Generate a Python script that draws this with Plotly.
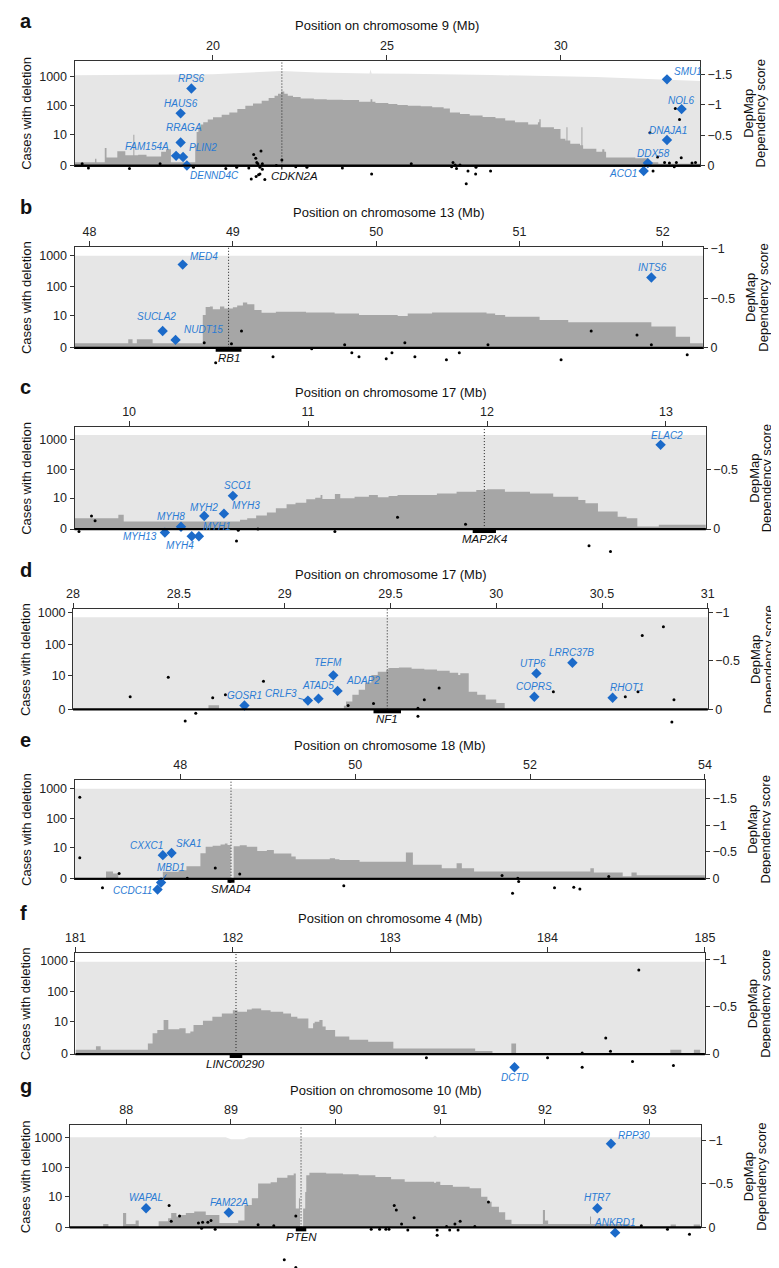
import numpy as np
import plotly.graph_objects as go

W, H = 779, 1268
FONT = "Liberation Sans, Arial, Helvetica, sans-serif"
BLUE = "#1b6ac9"
BLUE_TXT = "#2a7bd4"
LIGHT = "#e6e6e6"
DARK = "#a6a6a6"
FRAME = "#333333"

# ---------------- Panel a : chromosome 9 ----------------
a_tot_pos = [16.02, 20.0, 21.97, 23.0, 24.5, 24.53, 24.56, 25.6, 28.0, 31.0, 34.0]
a_tot_val = [1080, 1170, 1510, 1350, 1250, 1700, 1250, 1230, 1100, 950, 700]
a_del_pos = [16.02, 16.61, 16.65, 16.89, 16.94, 17.25, 17.48, 17.68, 17.71, 17.74, 17.85, 18.09,
             18.51, 18.65, 18.79, 19.44, 19.49, 19.53, 19.58, 19.65, 19.72, 19.85, 20.0, 20.25,
             20.47, 20.7, 20.93, 21.15, 21.4, 21.6, 21.77, 21.87, 21.96, 22.05, 22.15, 22.3,
             22.52, 22.9, 23.27, 23.73, 24.2, 24.53, 24.58, 24.67, 25.04, 25.3, 25.6, 25.97,
             26.3, 26.63, 26.81, 27.1, 27.38, 27.75, 28.12, 28.4, 28.68, 29.06, 29.34, 29.38,
             29.42, 29.8, 29.99, 30.13, 30.16, 30.19, 30.27, 30.55, 30.59, 30.62, 30.64, 31.02,
             31.19, 31.25, 31.3, 32.14, 32.51, 32.8, 34.0]
a_del_val = [0.3, 0.7, 0.3, 2.9, 0.85, 2.0, 1.2, 1.2, 9.8, 1.2, 1.3, 1.0,
             1.9, 2.5, 0.3, 0.3, 3.8, 12.3, 18.5, 23, 27.6, 34, 41, 50,
             60, 78, 101, 122, 150, 185, 220, 260, 308, 260, 220, 200,
             180, 170, 162, 158, 139, 170, 139, 125, 116, 108, 101, 97,
             90, 82, 60, 53, 47, 42, 38, 32, 27.6, 23, 27.6, 35,
             18.5, 16, 7, 6, 18.5, 6, 4.4, 3.8, 18.5, 3.8, 2.7, 1.9,
             2.5, 1.9, 0.85, 0.75, 0.3, 0.15, 0.15]
a_dot_pos = [16.24, 16.42, 17.6, 18.48, 19.44, 20.37, 20.68, 21.03, 21.17, 21.23, 21.26, 21.38,
             21.29, 21.42, 21.35, 21.42, 21.35, 21.31, 21.24, 21.1, 21.49, 21.98, 21.82, 22.38,
             22.7, 23.72, 24.56, 25.7, 26.9, 26.86, 26.96, 27.0, 27.1, 27.33, 27.56, 27.55,
             27.28, 27.98, 32.56, 33.29, 33.41, 32.78, 33.46, 32.65, 32.98, 33.12, 33.26, 33.32,
             33.77, 33.87, 32.56]
a_dot_score = [-0.03, 0.04, 0.05, -0.03, 0.03, 0.05, 0.03, 0.04, -0.18, -0.12, -0.05, -0.24,
               -0.03, -0.03, 0.03, 0.06, 0.14, 0.15, 0.18, 0.22, 0.23, -0.09, 0.0, 0.02,
               0.03, 0.04, 0.14, -0.03, -0.05, 0.02, -0.01, 0.05, -0.01, 0.09, 0.03, 0.14,
               0.3, 0.09, -0.54, -0.94, -0.76, -0.14, -0.13, 0.09, -0.05, -0.04, 0.02, -0.05,
               -0.04, -0.05, -0.04]
a_ess_gene = ["RPS6", "HAUS6", "RRAGA", "FAM154A", "PLIN2", "DENND4C", "SMU1", "NOL6", "DNAJA1", "DDX58", "ACO1"]
a_ess_pos = [19.38, 19.07, 19.07, 18.94, 19.14, 19.25, 33.05, 33.47, 33.05, 32.5, 32.38]
a_ess_score = [-1.27, -0.86, -0.38, -0.16, -0.14, 0.0, -1.42, -0.93, -0.42, -0.04, 0.09]
a_gene = ("CDKN2A", 21.965, 21.995)

# ---------------- Panel b : chromosome 13 ----------------
b_tot_pos = [47.895, 52.28]
b_tot_val = [1000, 1000]
b_del_pos = [47.895, 48.27, 48.3, 48.33, 48.44, 48.79, 48.81, 48.84, 48.86, 48.91, 48.94, 49.0,
             49.03, 49.07, 49.1, 49.15, 49.2, 49.3, 49.51, 49.71, 49.88, 50.15, 50.22, 50.39,
             50.77, 50.83, 50.9, 51.14, 51.34, 51.92, 52.09, 52.19, 52.28]
b_del_val = [0.4, 0.9, 0.4, 0.9, 0.4, 10.6, 20.5, 21, 17, 21, 18, 20,
             23, 29, 25, 16, 12.8, 14, 13, 12, 10.6, 9.8, 12, 13,
             12, 10.6, 9.2, 7, 5.8, 3.9, 1.3, 0.4, 0.4]
b_dot_pos = [48.8, 48.99, 49.06, 50.2, 50.78, 51.5, 51.82, 51.92, 48.88, 49.28, 49.55, 49.78,
             49.83, 49.88, 50.07, 50.11, 50.27, 50.49, 50.58, 51.29, 52.17]
b_dot_score = [-0.05, -0.04, -0.17, -0.05, -0.03, -0.17, -0.13, -0.03, 0.15, 0.09, 0.01, -0.03,
               0.05, 0.09, 0.11, 0.05, 0.09, 0.12, 0.05, 0.12, 0.07]
b_ess_gene = ["MED4", "INTS6", "SUCLA2", "NUDT15"]
b_ess_pos = [48.65, 51.92, 48.51, 48.6]
b_ess_score = [-0.84, -0.71, -0.17, -0.08]
b_gene = ("RB1", 48.88, 49.06)

# ---------------- Panel c : chromosome 17 (10-13 Mb) ----------------
c_tot_pos = [9.695, 13.223]
c_tot_val = [1450, 1450]
c_del_pos = [9.695, 9.94, 9.97, 10.62, 10.66, 10.71, 10.77, 10.82, 10.88, 10.93, 10.99, 11.04,
             11.07, 11.08, 11.15, 11.18, 11.26, 11.34, 11.39, 11.45, 11.5, 11.72, 11.83, 11.94,
             12.0, 12.1, 12.24, 12.37, 12.51, 12.55, 12.62, 12.73, 12.78, 12.84, 12.96, 13.223]
c_del_val = [1.33, 2.0, 0.8, 1.04, 1.33, 1.86, 2.6, 4.0, 5.8, 6.7, 9, 10.4,
             12.9, 9.3, 14, 9.8, 11.3, 12.9, 10.7, 11.9, 12.9, 14.8, 17, 19.4,
             21, 17, 14.8, 11.3, 8.5, 6.4, 2.9, 1.6, 1.33, 0.23, 0.4, 0.4]
c_dot_pos = [9.79, 9.81, 9.72, 11.5, 11.88, 10.61, 10.72, 11.15, 10.6, 12.57, 12.69]
c_dot_score = [-0.11, -0.07, 0.02, -0.1, -0.04, 0.01, 0.0, 0.02, 0.1, 0.14, 0.19]
c_ess_gene = ["ELAC2", "SCO1", "MYH2", "MYH3", "MYH8", "MYH1", "MYH4", "MYH13"]
c_ess_pos = [12.97, 10.58, 10.42, 10.53, 10.29, 10.39, 10.35, 10.2]
c_ess_score = [-0.71, -0.28, -0.11, -0.13, -0.02, 0.06, 0.06, 0.03]
c_gene = ("MAP2K4", 11.92, 12.05)

# ---------------- Panel d : chromosome 17 (28-31 Mb) ----------------
d_tot_pos = [28.0, 31.0]
d_tot_val = [700, 700]
d_del_pos = [28.0, 28.64, 28.69, 29.28, 29.29, 29.32, 29.35, 29.38, 29.41, 29.44, 29.48, 29.49,
             29.54, 29.6, 29.66, 29.72, 29.78, 29.82, 29.83, 29.87, 29.91, 29.95, 30.0, 30.04, 31.0]
d_del_val = [0, 0.33, 0, 0.3, 0.75, 1.8, 3, 5.7, 10.5, 13.5, 15.3, 18,
             18.5, 17, 16, 14.6, 12.5, 10.6, 12, 2.5, 1.8, 1.0, 0.56, 0, 0]
d_dot_pos = [28.27, 28.45, 28.66, 28.72, 28.9, 29.73, 29.66, 30.61, 30.67, 30.84, 30.69, 30.79,
             30.27, 29.3, 29.42, 29.63, 28.58, 28.53, 29.63, 30.83]
d_dot_score = [-0.13, -0.33, -0.12, -0.15, -0.29, -0.22, -0.1, -0.13, -0.18, -0.1, -0.76, -0.85,
               -0.18, -0.04, -0.06, -0.01, 0.04, 0.12, 0.07, 0.13]
d_ess_gene = ["TEFM", "ATAD5", "ADAP2", "CRLF3", "GOSR1", "UTP6", "COPRS", "LRRC37B", "RHOT1"]
d_ess_pos = [29.23, 29.16, 29.25, 29.11, 28.81, 30.19, 30.18, 30.36, 30.55]
d_ess_score = [-0.35, -0.11, -0.19, -0.09, -0.04, -0.37, -0.13, -0.48, -0.12]
d_gene = ("NF1", 29.42, 29.55)

# ---------------- Panel e : chromosome 18 ----------------
e_tot_pos = [46.79, 54.0]
e_tot_val = [1000, 1000]
e_del_pos = [46.79, 47.15, 47.23, 47.29, 47.8, 47.98, 48.07, 48.23, 48.29, 48.37, 48.46, 48.51,
             48.54, 48.575, 48.61, 48.68, 48.76, 48.88, 48.99, 49.07, 49.27, 49.32, 49.71, 49.77,
             49.82, 50.05, 50.58, 50.66, 50.94, 50.99, 51.16, 51.22, 51.36, 52.69, 52.73, 53.06,
             53.16, 53.22, 54.0]
e_del_val = [0, 0.74, 0.5, 0, 0.7, 0.9, 1.6, 6, 10.7, 11.5, 12.9, 14,
             12.3, 0, 11, 12, 10.7, 7.4, 8.1, 5.9, 4.5, 3.5, 3.8, 3.5,
             3.2, 2.7, 6.5, 1.9, 1.9, 1.25, 2.3, 1.25, 0.74, 1.24, 0.6, 0.2,
             0.6, 0.3, 0.3]
e_dot_pos = [46.85, 46.85, 47.3, 48.4, 48.68, 47.11, 48.08, 48.57, 49.87, 51.68, 51.86, 51.87,
             51.8, 52.28, 52.5, 52.57, 52.9]
e_dot_score = [-1.52, -0.39, -0.1, -0.2, -0.09, 0.17, -0.01, 0.05, 0.13, -0.06, -0.01, 0.05,
               0.27, 0.17, 0.16, 0.19, -0.04]
e_ess_gene = ["CXXC1", "SKA1", "MBD1", "CCDC11"]
e_ess_pos = [47.8, 47.9, 47.78, 47.74]
e_ess_score = [-0.44, -0.48, 0.07, 0.2]
e_gene = ("SMAD4", 48.54, 48.62)

# ---------------- Panel f : chromosome 4 ----------------
f_tot_pos = [181.0, 185.0]
f_tot_val = [950, 950]
f_del_pos = [181.0, 181.13, 181.16, 181.46, 181.49, 181.52, 181.56, 181.59, 181.66, 181.7, 181.73,
             181.75, 181.81, 181.87, 181.93, 182.0, 182.03, 182.09, 182.12, 182.18, 182.24, 182.32,
             182.37, 182.41, 182.48, 182.51, 182.52, 182.55, 182.57, 182.59, 182.65, 182.74, 182.86,
             183.02, 183.54, 183.65, 183.77, 183.8, 184.78, 184.85, 184.93, 184.97, 185.0]
f_del_val = [0.37, 0.8, 0.37, 1.2, 3.7, 5.0, 11.5, 5.3, 5.8, 3.7, 4.3,
             7.6, 10.9, 15, 19.4, 25, 22, 26.5, 28.5, 25, 22, 19.4,
             15, 13.1, 5.8, 8.8, 10, 11.5, 6.7, 5.0, 2.7, 1.9, 1.5,
             0.5, 0.25, 0, 1.2, 0, 0.37, 0, 0.37, 0, 0]
f_dot_pos = [184.58, 184.37, 183.23, 184.0, 184.22, 184.22, 184.4, 184.54, 184.8]
f_dot_score = [-0.89, -0.17, 0.04, 0.04, -0.01, 0.14, -0.03, 0.08, 0.12]
f_ess_gene = ["DCTD"]
f_ess_pos = [183.79]
f_ess_score = [0.14]
f_gene = ("LINC00290", 181.98, 182.06)

# ---------------- Panel g : chromosome 10 ----------------
g_tot_pos = [87.46, 88.95, 89.0, 89.12, 89.17, 90.93, 90.95, 90.97, 93.49]
g_tot_val = [1000, 1000, 860, 860, 1000, 1000, 1150, 1000, 1000]
g_del_pos = [87.46, 87.78, 87.83, 87.97, 88.0, 88.09, 88.12, 88.31, 88.4, 88.43, 88.48, 88.51,
             88.57, 88.65, 88.76, 88.89, 89.07, 89.13, 89.2, 89.26, 89.38, 89.44, 89.54, 89.6,
             89.62, 89.65, 89.66, 89.69, 89.71, 89.72, 89.75, 89.91, 90.07, 90.22, 90.38, 90.53,
             90.66, 90.94, 90.96, 91.0, 91.12, 91.28, 91.39, 91.45, 91.49, 91.56, 91.62, 91.68,
             91.98, 92.0, 92.03, 92.43, 92.44, 92.81, 93.2, 93.25, 93.42, 93.48]
g_del_val = [0, 0.3, 0, 2.0, 0.3, 0.7, 0, 0.6, 1.0, 2.0, 1.3, 1.6,
             2.0, 2.4, 1.6, 0.4, 0.7, 4.6, 8.3, 28, 31, 44, 54, 61,
             3.3, 8.3, 0, 3.3, 14, 54, 65, 61, 58, 54, 47, 39,
             32, 30, 32, 25, 21.6, 19, 9.5, 6.2, 3.9, 2.2, 0.8, 0.3,
             2.8, 0.7, 0.3, 1.3, 0.3, 0, 0.25, 0, 0.25, 0]
g_dot_pos = [88.41, 88.43, 88.51, 88.69, 88.73, 88.78, 88.81, 88.72, 88.85, 89.26, 89.41, 89.62,
             89.51, 89.62, 90.34, 90.42, 90.48, 90.51, 90.56, 90.58, 90.63, 90.69, 90.75, 90.97,
             90.97, 91.06, 91.09, 91.14, 91.17, 91.19, 91.33, 91.46, 92.92, 93.17, 93.38]
g_dot_score = [-0.25, -0.07, -0.13, -0.05, -0.06, -0.06, -0.08, 0.01, 0.02, -0.03, -0.02, -0.13,
               0.37, 0.46, 0.02, 0.02, 0.02, 0.02, -0.25, -0.2, -0.04, 0.03, -0.11, 0.03,
               0.09, -0.01, 0.03, -0.04, 0.03, -0.07, -0.01, -0.29, -0.02, 0.02, 0.08]
g_ess_gene = ["WAPAL", "FAM22A", "RPP30", "HTR7", "ANKRD1"]
g_ess_pos = [88.19, 88.98, 92.63, 92.5, 92.67]
g_ess_score = [-0.22, -0.17, -0.96, -0.22, 0.06]
g_gene = ("PTEN", 89.62, 89.72)

count_ticks = [0, 10, 100, 1000]

panels = [
    dict(letter="a", chrom="9", tot=(a_tot_pos, a_tot_val), dele=(a_del_pos, a_del_val),
         dots=(a_dot_pos, a_dot_score), ess=(a_ess_gene, a_ess_pos, a_ess_score), gene=a_gene),
    dict(letter="b", chrom="13", tot=(b_tot_pos, b_tot_val), dele=(b_del_pos, b_del_val),
         dots=(b_dot_pos, b_dot_score), ess=(b_ess_gene, b_ess_pos, b_ess_score), gene=b_gene),
    dict(letter="c", chrom="17", tot=(c_tot_pos, c_tot_val), dele=(c_del_pos, c_del_val),
         dots=(c_dot_pos, c_dot_score), ess=(c_ess_gene, c_ess_pos, c_ess_score), gene=c_gene),
    dict(letter="d", chrom="17", tot=(d_tot_pos, d_tot_val), dele=(d_del_pos, d_del_val),
         dots=(d_dot_pos, d_dot_score), ess=(d_ess_gene, d_ess_pos, d_ess_score), gene=d_gene),
    dict(letter="e", chrom="18", tot=(e_tot_pos, e_tot_val), dele=(e_del_pos, e_del_val),
         dots=(e_dot_pos, e_dot_score), ess=(e_ess_gene, e_ess_pos, e_ess_score), gene=e_gene),
    dict(letter="f", chrom="4", tot=(f_tot_pos, f_tot_val), dele=(f_del_pos, f_del_val),
         dots=(f_dot_pos, f_dot_score), ess=(f_ess_gene, f_ess_pos, f_ess_score), gene=f_gene),
    dict(letter="g", chrom="10", tot=(g_tot_pos, g_tot_val), dele=(g_del_pos, g_del_val),
         dots=(g_dot_pos, g_dot_score), ess=(g_ess_gene, g_ess_pos, g_ess_score), gene=g_gene),
]

# ---------------- layout geometry (pixels) ----------------
geom = [
    dict(l=58, r=700, t=48, b=154, xr=[16.02, 34.0], ylt=3.53, yrt=-1.73, xt=[20, 25, 30], rt=[0, -0.5, -1, -1.5], gdx=13),
    dict(l=58, r=703, t=236, b=338, xr=[47.895, 52.28], ylt=3.29, yrt=-1.02, xt=[48, 49, 50, 51, 52], rt=[0, -0.5, -1], gdx=0),
    dict(l=58, r=706, t=418, b=521, xr=[9.695, 13.223], ylt=3.43, yrt=-0.86, xt=[10, 11, 12, 13], rt=[0, -0.5], gdx=0),
    dict(l=56.5, r=708, t=602, b=703, xr=[28.0, 31.0], ylt=3.09, yrt=-1.03, xt=[28, 28.5, 29, 29.5, 30, 30.5, 31], rt=[0, -0.5, -1], gdx=0),
    dict(l=58, r=705, t=774, b=874, xr=[46.79, 54.0], ylt=3.30, yrt=-1.85, xt=[48, 50, 52, 54], rt=[0, -0.5, -1, -1.5], gdx=0),
    dict(l=59, r=705, t=949, b=1051, xr=[181.0, 185.0], ylt=3.26, yrt=-1.07, xt=[181, 182, 183, 184, 185], rt=[0, -0.5, -1], gdx=0),
    dict(l=53, r=701, t=1123, b=1226, xr=[87.46, 93.49], ylt=3.40, yrt=-1.17, xt=[88, 89, 90, 91, 92, 93], rt=[0, -0.5, -1], gdx=0),
]

# label offsets (px): dx, dy (down positive), anchor ; or arrow offsets
label_place = {
    "RPS6": (0, -10, "center"), "HAUS6": (0, -10, "center"), "RRAGA": (3, -15, "center"),
    "FAM154A": (-5, -9, "right"), "PLIN2": (4, -10, "left"), "DENND4C": (1, 10, "left"),
    "SMU1": (5, -8, "left"), "NOL6": (0, -9, "center"), "DNAJA1": (1, -10, "center"),
    "DDX58": (6, -10, "center"), "ACO1": (-5, 2, "right"),
    "MED4": (5, -8, "left"), "INTS6": (1, -10, "center"), "SUCLA2": (-6, -14, "center"),
    "NUDT15": (6, -10, "left"),
    "ELAC2": (6, -9, "center"), "SCO1": (5, -10, "center"), "MYH2": (0, -9, "center"),
    "MYH3": (6, -8, "left"), "MYH8": (-10, -10, "center"), "MYH1": (2, -10, "left"),
    "MYH4": (-12, 9, "center"), "MYH13": (-6, 4, "right"),
    "TEFM": (-5, -13, "center"), "ATAD5": (0, -13, "center"), "ADAP2": (6, -10, "left"),
    "GOSR1": (0, -10, "center"), "UTP6": (-3, -10, "center"), "COPRS": (0, -10, "center"),
    "LRRC37B": (-1, -10, "center"), "RHOT1": (14, -10, "center"),
    "CXXC1": (-16, -10, "center"), "SKA1": (2, -10, "left"), "CCDC11": (-4, 1, "right"),
    "DCTD": (0, 10, "center"),
    "WAPAL": (0, -11, "center"), "FAM22A": (0, -10, "center"), "RPP30": (5, -8, "left"),
    "HTR7": (0, -11, "center"), "ANKRD1": (0, -10, "center"),
}
arrow_place = {"CRLF3": (-27, -7), "MBD1": (10, -15)}


def fx(p):
    return p / W


def fy(p):
    return 1 - p / H


fig = go.Figure()
layout = dict(
    width=W, height=H, margin=dict(l=0, r=0, t=0, b=0),
    paper_bgcolor="white", plot_bgcolor="rgba(0,0,0,0)", showlegend=False,
    font=dict(family=FONT, size=12, color="#222"),
)
shapes = []
annotations = []
tickfont = dict(family=FONT, size=12.5, color="#222")
lvals = list(np.log10(1 + np.array(count_ticks, dtype=float)))

for i, (p, g) in enumerate(zip(panels, geom)):
    xid = "x" if i == 0 else f"x{i + 1}"
    yl = f"y{2 * i + 1}" if i > 0 else "y"
    yr = f"y{2 * i + 2}"
    xkey = "xaxis" if i == 0 else f"xaxis{i + 1}"
    ylkey = "yaxis" if i == 0 else f"yaxis{2 * i + 1}"
    yrkey = f"yaxis{2 * i + 2}"
    hpx = g["b"] - g["t"]
    # the score axis extends below the frame so positive scores stay visible
    ext = min(46, H - g["b"] - 0.5)
    per_px = abs(g["yrt"]) / hpx

    layout[xkey] = dict(
        domain=[fx(g["l"]), fx(g["r"])], range=g["xr"], side="top", anchor=yl,
        showline=True, linecolor=FRAME, linewidth=1, mirror=True,
        ticks="outside", ticklen=5, tickwidth=1, tickcolor=FRAME,
        tickvals=g["xt"], ticktext=[f"{v:g}" for v in g["xt"]], tickfont=tickfont,
        showgrid=False, zeroline=False, fixedrange=True,
    )
    layout[ylkey] = dict(
        domain=[fy(g["b"]), fy(g["t"])], range=[0, g["ylt"]], anchor=xid,
        showline=True, linecolor=FRAME, linewidth=1, mirror=True,
        ticks="outside", ticklen=4, tickwidth=1, tickcolor=FRAME,
        tickvals=lvals, ticktext=[str(v) for v in count_ticks], tickfont=tickfont,
        showgrid=False, zeroline=False, fixedrange=True,
    )
    layout[yrkey] = dict(
        domain=[fy(g["b"] + ext), fy(g["t"])], range=[ext * per_px, g["yrt"]],
        side="right", anchor=xid, showline=False,
        ticks="outside", ticklen=4, tickwidth=1, tickcolor=FRAME,
        tickvals=g["rt"], ticktext=[("\u2212" + f"{abs(v):g}") if v < 0 else "0" for v in g["rt"]],
        tickfont=tickfont, showgrid=False, zeroline=False, fixedrange=True,
    )

    # total cases (light gray)
    tp, tv = p["tot"]
    fig.add_trace(go.Scatter(x=tp, y=np.log10(1 + np.array(tv, dtype=float)), xaxis=xid, yaxis=yl,
                             mode="lines", line=dict(width=0, color=LIGHT), fill="tozeroy",
                             fillcolor=LIGHT, hoverinfo="skip"))
    # cases with deletion (dark gray, stepped)
    dp, dv = p["dele"]
    fig.add_trace(go.Scatter(x=dp, y=np.log10(1 + np.array(dv, dtype=float)), xaxis=xid, yaxis=yl,
                             mode="lines", line=dict(width=0, color=DARK, shape="hv"), fill="tozeroy",
                             fillcolor=DARK, hoverinfo="skip"))
    # dependency scores, other genes
    op, osc = p["dots"]
    fig.add_trace(go.Scatter(x=op, y=osc, xaxis=xid, yaxis=yr, mode="markers",
                             marker=dict(size=3, color="black"), cliponaxis=False))
    # essential genes
    eg, ep, es = p["ess"]
    fig.add_trace(go.Scatter(x=ep, y=es, xaxis=xid, yaxis=yr, mode="markers",
                             marker=dict(size=8, color=BLUE, symbol="diamond"), cliponaxis=False))
    for name, xv, sv in zip(eg, ep, es):
        if name in arrow_place:
            ax, ay = arrow_place[name]
            annotations.append(dict(x=xv, y=sv, xref=xid, yref=yr, text=f"<i>{name}</i>",
                                    showarrow=True, arrowhead=0, arrowwidth=0.9, arrowcolor=BLUE,
                                    ax=ax, ay=ay, standoff=3,
                                    font=dict(family=FONT, size=10, color=BLUE_TXT)))
        else:
            dx, dy, anc = label_place.get(name, (0, -10, "center"))
            annotations.append(dict(x=xv, y=sv, xref=xid, yref=yr, text=f"<i>{name}</i>",
                                    showarrow=False, xanchor=anc, yanchor="middle",
                                    xshift=dx, yshift=-dy,
                                    font=dict(family=FONT, size=10, color=BLUE_TXT)))

    # deleted gene: bar, dotted line, label
    gname, g0, g1 = p["gene"]
    gmid = (g0 + g1) / 2
    shapes.append(dict(type="line", xref=xid, yref=f"{yl} domain", x0=gmid, x1=gmid, y0=0, y1=1,
                       line=dict(color="#222", width=1, dash="1px,2px"), layer="above"))
    shapes.append(dict(type="line", xref=f"{xid} domain", yref=f"{yl} domain", x0=0, x1=1, y0=0, y1=0,
                       line=dict(color="black", width=2.2), layer="above"))
    shapes.append(dict(type="rect", xref=xid, yref=f"{yl} domain", x0=g0, x1=g1,
                       y0=0, y1=-4.0 / hpx, line=dict(width=0), fillcolor="black", layer="above"))
    annotations.append(dict(x=gmid, y=0, xref=xid, yref=f"{yl} domain", text=f"<i>{gname}</i>",
                            showarrow=False, xanchor="center", yanchor="middle",
                            xshift=g["gdx"], yshift=-10,
                            font=dict(family=FONT, size=11.5, color="#111")))

    # titles and panel letter
    annotations.append(dict(x=fx((g["l"] + g["r"]) / 2), y=fy(g["t"] - 35), xref="paper", yref="paper",
                            text=f"Position on chromosome {p['chrom']} (Mb)", showarrow=False,
                            xanchor="center", yanchor="middle",
                            font=dict(family=FONT, size=13, color="#111")))
    annotations.append(dict(x=fx(0), y=fy(g["t"] - 40), xref="paper", yref="paper",
                            text=f"<b>{p['letter']}</b>", showarrow=False,
                            xanchor="left", yanchor="middle",
                            font=dict(family=FONT, size=20, color="#111")))
    annotations.append(dict(x=fx(8), y=fy((g["t"] + g["b"]) / 2), xref="paper", yref="paper",
                            text="Cases with deletion", showarrow=False, textangle=-90,
                            xanchor="center", yanchor="middle",
                            font=dict(family=FONT, size=13, color="#111")))
    for off, txt in ((49, "DepMap"), (62, "Dependency score")):
        annotations.append(dict(x=fx(g["r"] + off), y=fy((g["t"] + g["b"]) / 2), xref="paper", yref="paper",
                                text=txt, showarrow=False, textangle=-90,
                                xanchor="center", yanchor="middle",
                                font=dict(family=FONT, size=13, color="#111")))

layout["shapes"] = shapes
layout["annotations"] = annotations
fig.update_layout(**layout)
fig.write_html("out.html")
